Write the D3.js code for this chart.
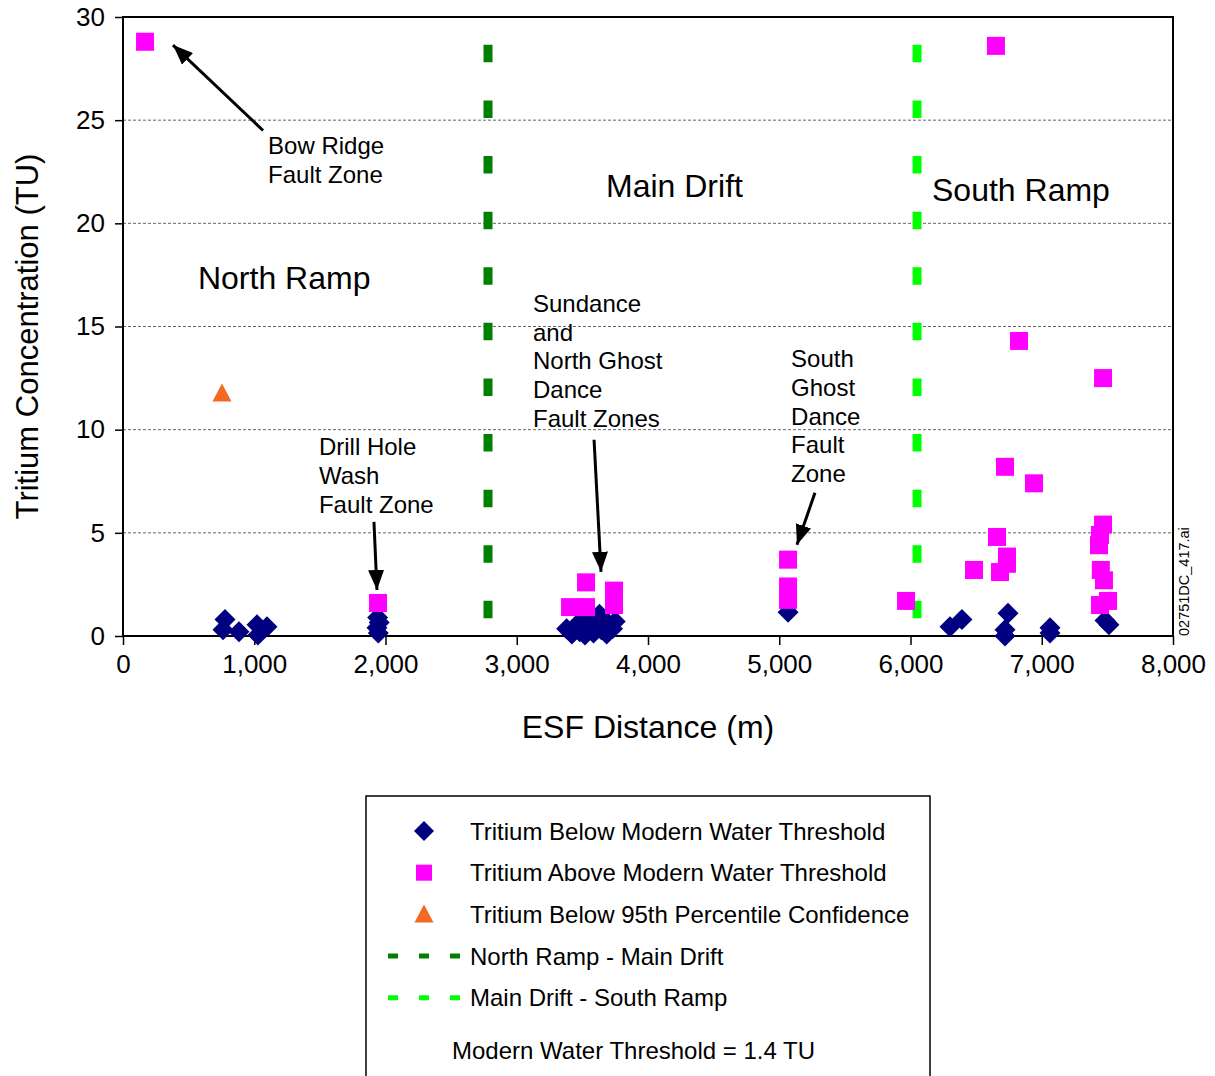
<!DOCTYPE html>
<html lang="en">
<head>
<meta charset="UTF-8">
<title>Tritium vs ESF Distance</title>
<script src="https://cdnjs.cloudflare.com/ajax/libs/d3/7.8.5/d3.min.js"></script>
<style>
  body { margin: 0; background: #fff; }
  svg text { font-family: "Liberation Sans", Arial, sans-serif; fill: #000; }
</style>
</head>
<body>
<div id="chart"></div>
<script>
// ---- data (ESF distance m, tritium TU) ----
const belowThreshold = [
  [777, 0.8], [762, 0.3], [884, 0.2], [1021, 0.55], [1097, 0.45], [1028, 0.05],
  [1940, 0.9], [1952, 0.65], [1935, 0.4], [1945, 0.15],
  [3380, 0.35], [3420, 0.1], [3450, 0.5], [3480, 0.2], [3500, 0.75], [3520, 0.05],
  [3545, 0.4], [3565, 0.9], [3585, 0.15], [3605, 0.6], [3630, 1.05], [3645, 0.3],
  [3665, 0.8], [3685, 0.1], [3705, 0.5], [3730, 0.35], [3750, 0.7],
  [5067, 1.15],
  [6301, 0.45], [6392, 0.8], [6743, 1.1], [6720, 0.3], [6720, 0.0],
  [7063, 0.4], [7063, 0.15], [7482, 0.75], [7512, 0.55]
];
const aboveThreshold = [
  [168, 28.8], [1943, 1.6],
  [3406, 1.4], [3528, 1.4], [3528, 2.6], [3741, 2.2], [3741, 1.5],
  [5067, 3.7], [5067, 2.4], [5067, 1.75],
  [5966, 1.7], [6484, 3.2], [6659, 4.8], [6682, 3.1], [6735, 3.85], [6735, 3.5],
  [6720, 8.2], [6941, 7.4], [6827, 14.3], [6651, 28.6],
  [7467, 12.5], [7467, 5.4], [7444, 4.9], [7436, 4.4], [7450, 3.2], [7474, 2.7],
  [7444, 1.5], [7505, 1.7]
];
const below95 = [[754, 11.75]];
const boundaries = [
  { x: 2781, color: "#008000", label: "North Ramp - Main Drift" },
  { x: 6050, color: "#00ff00", label: "Main Drift - South Ramp" }
];
const xTicks = [0, 1000, 2000, 3000, 4000, 5000, 6000, 7000, 8000];
const yTicks = [0, 5, 10, 15, 20, 25, 30];
const regionLabels = [
  { text: "North Ramp", x: 571, y: 16.8 },
  { text: "Main Drift", x: 3680, y: 21.3 },
  { text: "South Ramp", x: 6164, y: 21.1 }
];
const notes = [
  { lines: ["Bow Ridge", "Fault Zone"], x: 1105, y: 23.35, from: [1067, 24.5], to: [381, 28.64] },
  { lines: ["Drill Hole", "Wash", "Fault Zone"], x: 1493, y: 8.76, from: [1912, 5.53], to: [1935, 2.23] },
  { lines: ["Sundance", "and", "North Ghost", "Dance", "Fault Zones"], x: 3124, y: 15.7, from: [3589, 9.51], to: [3642, 3.11] },
  { lines: ["South", "Ghost", "Dance", "Fault", "Zone"], x: 5090, y: 13.03, from: [5272, 6.94], to: [5135, 4.42] }
];

const W = 1215, H = 1076;
const margin = { top: 17, left: 123, right: 42, bottom: 440 };
const iw = W - margin.left - margin.right;
const ih = H - margin.top - margin.bottom;

const svg = d3.select("#chart").append("svg")
  .attr("width", W).attr("height", H);

const defs = svg.append("defs");
defs.append("marker")
  .attr("id", "arrow")
  .attr("markerUnits", "userSpaceOnUse")
  .attr("viewBox", "0 0 20 16")
  .attr("refX", 20).attr("refY", 8)
  .attr("markerWidth", 20).attr("markerHeight", 16)
  .attr("orient", "auto")
  .append("path").attr("d", "M0,0L20,8L0,16Z").attr("fill", "#000");

const g = svg.append("g").attr("transform", `translate(${margin.left},${margin.top})`);

const x = d3.scaleLinear().domain([0, 8000]).range([0, iw]);
const y = d3.scaleLinear().domain([0, 30]).range([ih, 0]);

// gridlines
g.append("g").selectAll("line")
  .data(yTicks.filter(t => t > 0 && t < 30))
  .join("line")
  .attr("x1", 0).attr("x2", iw)
  .attr("y1", d => y(d)).attr("y2", d => y(d))
  .attr("stroke", "#666").attr("stroke-width", 1)
  .attr("stroke-dasharray", "3,2");

// axes
const xAxis = g.append("g")
  .attr("transform", `translate(0,${ih})`)
  .call(d3.axisBottom(x).tickValues(xTicks).tickSize(9).tickPadding(10)
    .tickFormat(d3.format(",")));
const yAxis = g.append("g")
  .call(d3.axisLeft(y).tickValues(yTicks).tickSize(8).tickPadding(10));
[xAxis, yAxis].forEach(a => {
  a.select(".domain").remove();
  a.selectAll(".tick line").attr("stroke", "#000").attr("stroke-width", 1.5);
  a.selectAll(".tick text").style("font-size", "26px")
    .style("font-family", '"Liberation Sans", Arial, sans-serif');
});

// boundary dashed lines
g.append("g").selectAll("line")
  .data(boundaries)
  .join("line")
  .attr("x1", d => x(d.x)).attr("x2", d => x(d.x))
  .attr("y1", y(28.65)).attr("y2", y(0))
  .attr("stroke", d => d.color).attr("stroke-width", 9)
  .attr("stroke-dasharray", "17.5,38.1");

// frame
g.append("rect").attr("width", iw).attr("height", ih)
  .attr("fill", "none").attr("stroke", "#000").attr("stroke-width", 2);

// points
const diamond = s => `M0,${-s}L${s},0L0,${s}L${-s},0Z`;
g.append("g").selectAll("path")
  .data(belowThreshold)
  .join("path")
  .attr("transform", d => `translate(${x(d[0])},${y(d[1])})`)
  .attr("d", diamond(10.5))
  .attr("fill", "#000080");

g.append("g").selectAll("rect")
  .data(aboveThreshold)
  .join("rect")
  .attr("x", d => x(d[0]) - 9).attr("y", d => y(d[1]) - 9)
  .attr("width", 18).attr("height", 18)
  .attr("fill", "#ff00ff");

const tri = "M0,-10L9.5,8L-9.5,8Z";
g.append("g").selectAll("path")
  .data(below95)
  .join("path")
  .attr("transform", d => `translate(${x(d[0])},${y(d[1])})`)
  .attr("d", tri)
  .attr("fill", "#f26a21");

// region labels
g.append("g").selectAll("text")
  .data(regionLabels)
  .join("text")
  .attr("x", d => x(d.x)).attr("y", d => y(d.y))
  .style("font-size", "32px")
  .text(d => d.text);

// annotations
const ng = g.append("g");
notes.forEach(n => {
  const t = ng.append("text").attr("x", x(n.x)).attr("y", y(n.y)).style("font-size", "24px");
  n.lines.forEach((l, i) => {
    t.append("tspan").attr("x", x(n.x)).attr("dy", i === 0 ? 0 : 28.7).text(l);
  });
  ng.append("line")
    .attr("x1", x(n.from[0])).attr("y1", y(n.from[1]))
    .attr("x2", x(n.to[0])).attr("y2", y(n.to[1]))
    .attr("stroke", "#000").attr("stroke-width", 3)
    .attr("marker-end", "url(#arrow)");
});

// axis titles
svg.append("text")
  .attr("transform", `translate(38,${margin.top + ih / 2 + 10}) rotate(-90)`)
  .attr("text-anchor", "middle")
  .style("font-size", "31px")
  .text("Tritium Concentration (TU)");
svg.append("text")
  .attr("x", margin.left + iw / 2).attr("y", 738)
  .attr("text-anchor", "middle")
  .style("font-size", "32px")
  .text("ESF Distance (m)");

// file tag
svg.append("text")
  .attr("transform", `translate(1189,${margin.top + ih}) rotate(-90)`)
  .style("font-size", "14.5px")
  .text("02751DC_417.ai");

// legend
const lg = svg.append("g");
lg.append("rect").attr("x", 366).attr("y", 796).attr("width", 564).attr("height", 300)
  .attr("fill", "none").attr("stroke", "#000").attr("stroke-width", 1.5);

const legendItems = [
  { type: "diamond", label: "Tritium Below Modern Water Threshold" },
  { type: "square", label: "Tritium Above Modern Water Threshold" },
  { type: "triangle", label: "Tritium Below 95th Percentile Confidence" },
  { type: "line", color: boundaries[0].color, label: boundaries[0].label },
  { type: "line", color: boundaries[1].color, label: boundaries[1].label }
];
legendItems.forEach((it, i) => {
  const cy = 831 + i * 41.7;
  if (it.type === "diamond") {
    lg.append("path").attr("transform", `translate(424,${cy})`).attr("d", diamond(10)).attr("fill", "#000080");
  } else if (it.type === "square") {
    lg.append("rect").attr("x", 416).attr("y", cy - 8).attr("width", 16).attr("height", 16).attr("fill", "#ff00ff");
  } else if (it.type === "triangle") {
    lg.append("path").attr("transform", `translate(424,${cy})`).attr("d", tri).attr("fill", "#f26a21");
  } else {
    lg.append("line").attr("x1", 388).attr("x2", 460).attr("y1", cy).attr("y2", cy)
      .attr("stroke", it.color).attr("stroke-width", 5).attr("stroke-dasharray", "10,21");
  }
  lg.append("text").attr("x", 470).attr("y", cy + 8.5).style("font-size", "24px").text(it.label);
});
lg.append("text").attr("x", 452).attr("y", 1058.5).style("font-size", "24px")
  .text("Modern Water Threshold = 1.4 TU");
</script>
</body>
</html>
